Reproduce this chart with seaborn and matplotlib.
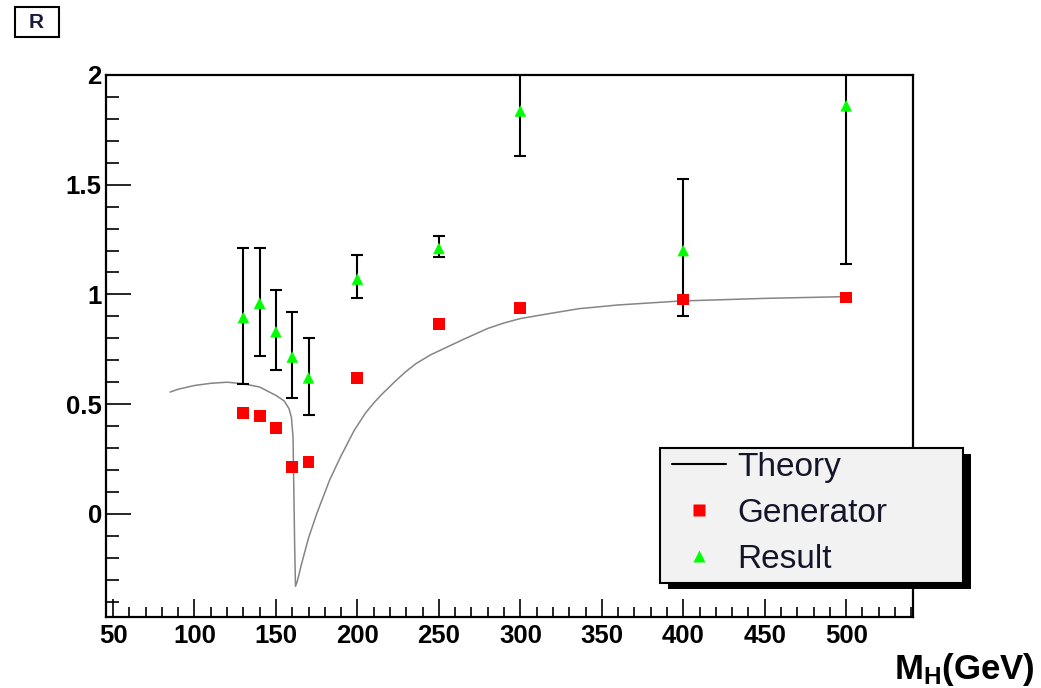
import matplotlib
matplotlib.use("Agg")
import matplotlib.pyplot as plt
import seaborn as sns
from matplotlib.lines import Line2D
from matplotlib.patches import Rectangle
from matplotlib.ticker import MultipleLocator, FormatStrFormatter

# theory curve
theory_mh = [85, 90, 100, 110, 120, 130, 140, 146, 150, 155, 158, 159.5, 160.5,
             161, 161.5, 162, 163, 166, 170, 175, 183, 190, 198, 205, 210, 215,
             224, 230, 236, 245, 255, 265, 280, 290, 300, 318, 336, 360, 398, 450, 500]
theory_r = [0.555, 0.568, 0.585, 0.595, 0.600, 0.593, 0.578, 0.555, 0.540, 0.515,
            0.48, 0.44, 0.35, 0.10, -0.15, -0.33, -0.31, -0.22, -0.11, 0.0, 0.155,
            0.265, 0.38, 0.46, 0.505, 0.545, 0.61, 0.65, 0.685, 0.725, 0.76, 0.795,
            0.845, 0.87, 0.89, 0.913, 0.935, 0.952, 0.97, 0.982, 0.99]

# generator / result points
mass = [130, 140, 150, 160, 170, 200, 250, 300, 400, 500]
generator = [0.46, 0.445, 0.39, 0.215, 0.235, 0.62, 0.865, 0.94, 0.977, 0.986]
result = [0.895, 0.96, 0.83, 0.715, 0.62, 1.07, 1.21, 1.836, 1.20, 1.86]
result_lo = [0.59, 0.72, 0.655, 0.527, 0.45, 0.985, 1.17, 1.63, 0.90, 1.14]
result_hi = [1.21, 1.21, 1.02, 0.92, 0.80, 1.18, 1.265, 2.04, 1.525, 2.58]

sns.set_style("ticks")
plt.rcParams['font.family'] = ['Liberation Sans', 'DejaVu Sans']
plt.rcParams['font.weight'] = 'bold'
plt.rcParams['mathtext.fontset'] = 'custom'
plt.rcParams['mathtext.rm'] = 'Liberation Sans:bold'
plt.rcParams['mathtext.bf'] = 'Liberation Sans:bold'

W, H = 1041, 688
fig = plt.figure(figsize=(W / 100, H / 100), dpi=100)
ax = fig.add_axes([106 / W, 1 - 617 / H, (913 - 106) / W, (617 - 75) / H])

sns.lineplot(x=theory_mh, y=theory_r, ax=ax, color="#858585", lw=1.1, sort=False, zorder=1)

err_lo = [r - lo for r, lo in zip(result, result_lo)]
err_hi = [hi - r for r, hi in zip(result, result_hi)]
ax.errorbar(mass, result, yerr=[err_lo, err_hi], fmt='none', ecolor='black',
            elinewidth=1.5, capsize=4, capthick=1.5, zorder=2)

sns.scatterplot(x=mass, y=generator, ax=ax, marker='s', s=74, color='red',
                edgecolor='none', linewidth=0, zorder=3)
sns.scatterplot(x=mass, y=result, ax=ax, marker='^', s=70, color='#00ff00',
                edgecolor='none', linewidth=0, zorder=4)

ax.set_xlim(45.7, 541)
ax.set_ylim(-0.47, 2.0)
ax.xaxis.set_major_locator(MultipleLocator(50))
ax.xaxis.set_minor_locator(MultipleLocator(10))
ax.yaxis.set_major_locator(MultipleLocator(0.5))
ax.yaxis.set_minor_locator(MultipleLocator(0.1))
ax.yaxis.set_major_formatter(FormatStrFormatter('%g'))
ax.tick_params(which='both', direction='in', top=False, right=False,
               width=1.2, colors='black', labelsize=18.5)
ax.tick_params(axis='x', which='major', length=12.7, pad=5)
ax.tick_params(axis='x', which='minor', length=7.2)
ax.tick_params(axis='y', which='major', length=18, pad=3)
ax.tick_params(axis='y', which='minor', length=9.4)
for sp in ax.spines.values():
    sp.set_linewidth(1.6)
    sp.set_color('black')
ax.set_xlabel('')
ax.set_ylabel('')

fig.text(1035 / W, 1 - 670 / H, r'$\mathbf{M_{H}(GeV)}$', ha='right', va='center',
         fontsize=25, color='black')

# title box "R"
fig.patches.append(Rectangle((15 / W, 1 - 37 / H), 44 / W, 30 / H, transform=fig.transFigure,
                             facecolor='white', edgecolor='black', lw=1.5))
fig.text(36 / W, 1 - 22 / H, 'R', ha='center', va='center', fontsize=15,
         color='#1b1b3a')

# legend frame + shadow drawn by hand (ROOT style)
ax.add_patch(Rectangle((668 / W, 1 - 589 / H), 303 / W, 135 / H, transform=fig.transFigure,
                       facecolor='black', edgecolor='none', clip_on=False, zorder=4.8))
ax.add_patch(Rectangle((660 / W, 1 - 583 / H), 303 / W, 135 / H, transform=fig.transFigure,
                       facecolor='#f2f2f2', edgecolor='black', lw=1.5, clip_on=False,
                       zorder=4.9))

handles = [Line2D([], [], color='black', lw=1.5),
           Line2D([], [], marker='s', color='red', ls='none', ms=8.6, mec='none'),
           Line2D([], [], marker='^', color='#00ff00', ls='none', ms=8.5, mec='none')]
leg = ax.legend(handles, ['Theory', 'Generator', 'Result'], loc='upper left',
                bbox_to_anchor=(672 / W, 1 - 452 / H), bbox_transform=fig.transFigure,
                borderaxespad=0, borderpad=0, frameon=False,
                prop={'weight': 'normal', 'size': 24},
                handlelength=1.62, handletextpad=0.33, labelspacing=0.45)
leg.set_zorder(5)
for t in leg.get_texts():
    t.set_color('#15152a')

fig.savefig('out.png', dpi=100)
